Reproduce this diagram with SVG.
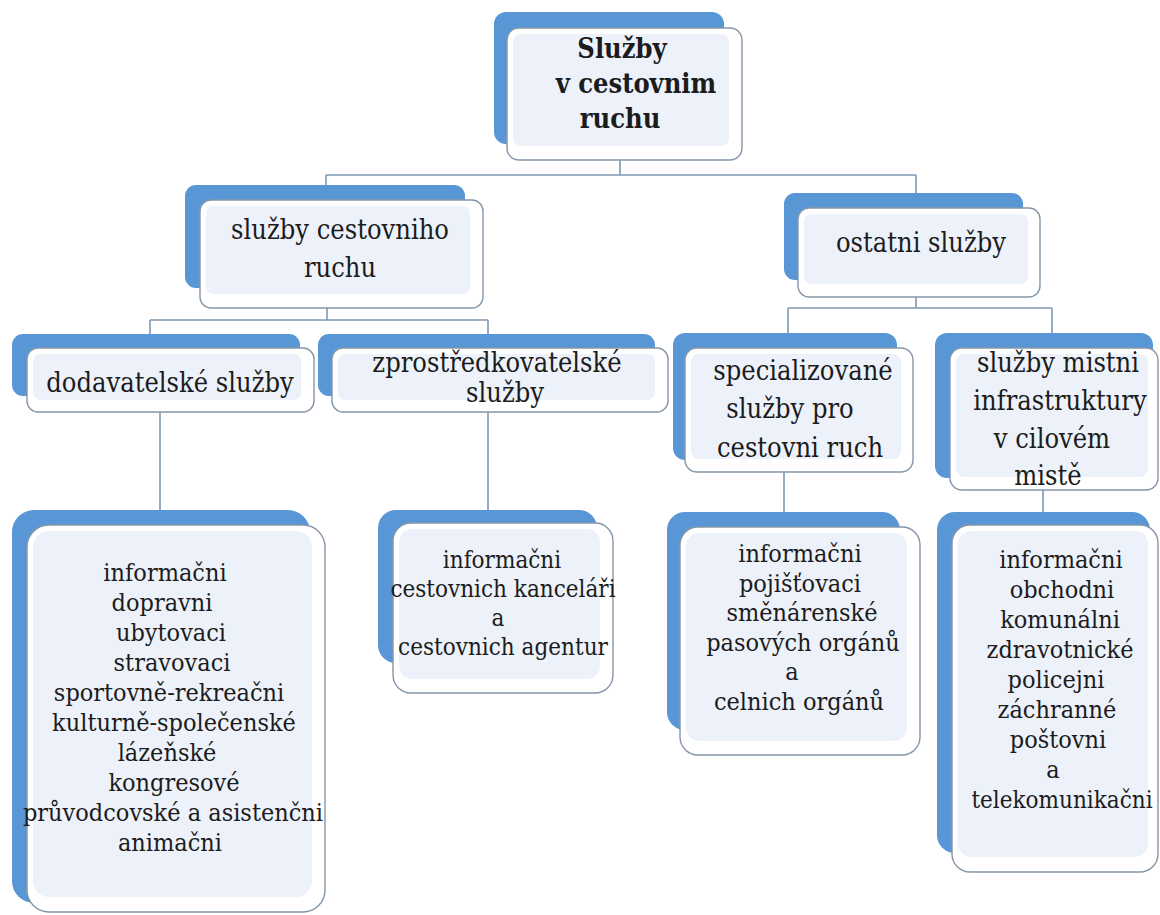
<svg xmlns="http://www.w3.org/2000/svg" width="1160" height="915" viewBox="0 0 1160 915">
<defs>
<style>
.back{fill:#5896d6}
.front{fill:#ffffff;stroke:#8596a8;stroke-width:1.4}
.inner{fill:#edf2fa}
.conn{fill:none;stroke:#7f98b2;stroke-width:1.6}
.t{font-family:'DejaVu Serif Condensed','DejaVu Serif','Liberation Serif',serif;font-stretch:condensed;font-size:27px;fill:#1c1c1c;text-anchor:middle}
.b{font-weight:bold}
.l{font-size:25px}
.s{font-size:24px}
</style>
</defs>
<rect x="0" y="0" width="1160" height="915" fill="#ffffff"/>

<g id="connectors" class="conn">
<path d="M620,160 V175 M326,175 H916 M326,175 V186 M916,175 V193"/>
<path d="M327,308 V320 M150,320 H488 M150,320 V334 M488,320 V334"/>
<path d="M916,297 V308 M788,308 H1052 M788,308 V333 M1052,308 V333"/>
<path d="M160,412 V510 M488,412 V510 M784,472 V512 M1043,490 V512"/>
</g>

<g id="n0">
<rect class="back" x="494" y="12" width="230" height="132" rx="12"/>
<rect class="front" x="507" y="28" width="235" height="132" rx="12"/>
<rect class="inner" x="513" y="34" width="216" height="112" rx="8"/>
<text class="t b" x="622" y="58">Služby</text>
<text class="t b" x="636" y="93">v cestovnim</text>
<text class="t b" x="620" y="128">ruchu</text>
</g>

<g id="n1">
<rect class="back" x="185" y="185" width="280" height="103" rx="11"/>
<rect class="front" x="200" y="200" width="283" height="108" rx="11"/>
<rect class="inner" x="206" y="206" width="264" height="88" rx="7"/>
<text class="t" x="340" y="239">služby cestovniho</text>
<text class="t" x="340" y="277">ruchu</text>
</g>

<g id="n2">
<rect class="back" x="784" y="193" width="239" height="87" rx="11"/>
<rect class="front" x="798" y="208" width="242" height="89" rx="11"/>
<rect class="inner" x="804" y="214" width="224" height="70" rx="7"/>
<text class="t" x="921" y="252">ostatni služby</text>
</g>

<g id="n3">
<rect class="back" x="12" y="334" width="288" height="62" rx="11"/>
<rect class="front" x="27" y="348" width="287" height="64" rx="11"/>
<rect class="inner" x="33" y="354" width="268" height="46" rx="7"/>
<text class="t" x="170" y="392">dodavatelské služby</text>
</g>

<g id="n4">
<rect class="back" x="318" y="334" width="337" height="62" rx="11"/>
<rect class="front" x="332" y="348" width="336" height="64" rx="11"/>
<rect class="inner" x="338" y="354" width="317" height="46" rx="7"/>
<text class="t" x="497" y="372">zprostředkovatelské</text>
<text class="t" x="505" y="402">služby</text>
</g>

<g id="n5">
<rect class="back" x="673" y="333" width="224" height="127" rx="12"/>
<rect class="front" x="685" y="348" width="228" height="124" rx="12"/>
<rect class="inner" x="691" y="354" width="210" height="105" rx="8"/>
<text class="t" x="803" y="380">specializované</text>
<text class="t" x="790" y="418">služby pro</text>
<text class="t" x="800" y="457">cestovni ruch</text>
</g>

<g id="n6">
<rect class="back" x="935" y="333" width="218" height="145" rx="12"/>
<rect class="front" x="950" y="348" width="208" height="142" rx="12"/>
<rect class="inner" x="956" y="354" width="192" height="123" rx="8"/>
<text class="t" x="1058" y="372">služby mistni</text>
<text class="t" x="1060" y="410">infrastruktury</text>
<text class="t" x="1052" y="448">v cilovém</text>
<text class="t" x="1048" y="485">mistě</text>
</g>

<g id="n7">
<rect class="back" x="12" y="510" width="298" height="393" rx="22"/>
<rect class="front" x="27" y="525" width="298" height="387" rx="22"/>
<rect class="inner" x="33" y="531" width="279" height="366" rx="16"/>
<text class="t l" x="165" y="581">informačni</text>
<text class="t l" x="162" y="611">dopravni</text>
<text class="t l" x="171" y="641">ubytovaci</text>
<text class="t l" x="172" y="671">stravovaci</text>
<text class="t l" x="169" y="701">sportovně-rekreačni</text>
<text class="t l" x="174" y="731">kulturně-společenské</text>
<text class="t l" x="167" y="761">lázeňské</text>
<text class="t l" x="174" y="791">kongresové</text>
<text class="t l" x="173" y="821">průvodcovské a asistenčni</text>
<text class="t l" x="170" y="851">animačni</text>
</g>

<g id="n8">
<rect class="back" x="378" y="510" width="219" height="153" rx="18"/>
<rect class="front" x="393" y="523" width="220" height="170" rx="18"/>
<rect class="inner" x="399" y="529" width="201" height="150" rx="13"/>
<text class="t s" x="502" y="568">informačni</text>
<text class="t s" x="503" y="597">cestovnich kanceláři</text>
<text class="t s" x="498" y="626">a</text>
<text class="t s" x="503" y="655">cestovnich agentur</text>
</g>

<g id="n9">
<rect class="back" x="667" y="512" width="233" height="218" rx="18"/>
<rect class="front" x="680" y="527" width="240" height="228" rx="18"/>
<rect class="inner" x="686" y="533" width="221" height="208" rx="13"/>
<text class="t l" x="800" y="562">informačni</text>
<text class="t l" x="800" y="592">pojišťovaci</text>
<text class="t l" x="802" y="621">směnárenské</text>
<text class="t l" x="803" y="651">pasových orgánů</text>
<text class="t l" x="792" y="680">a</text>
<text class="t l" x="799" y="710">celnich orgánů</text>
</g>

<g id="n10">
<rect class="back" x="937" y="512" width="213" height="341" rx="18"/>
<rect class="front" x="952" y="525" width="206" height="347" rx="18"/>
<rect class="inner" x="958" y="531" width="190" height="326" rx="13"/>
<text class="t l" x="1061" y="568">informačni</text>
<text class="t l" x="1062" y="598">obchodni</text>
<text class="t l" x="1060" y="628">komunálni</text>
<text class="t l" x="1060" y="658">zdravotnické</text>
<text class="t l" x="1056" y="688">policejni</text>
<text class="t l" x="1057" y="718">záchranné</text>
<text class="t l" x="1058" y="748">poštovni</text>
<text class="t l" x="1053" y="778">a</text>
<text class="t s" x="1062" y="808">telekomunikačni</text>
</g>
</svg>
